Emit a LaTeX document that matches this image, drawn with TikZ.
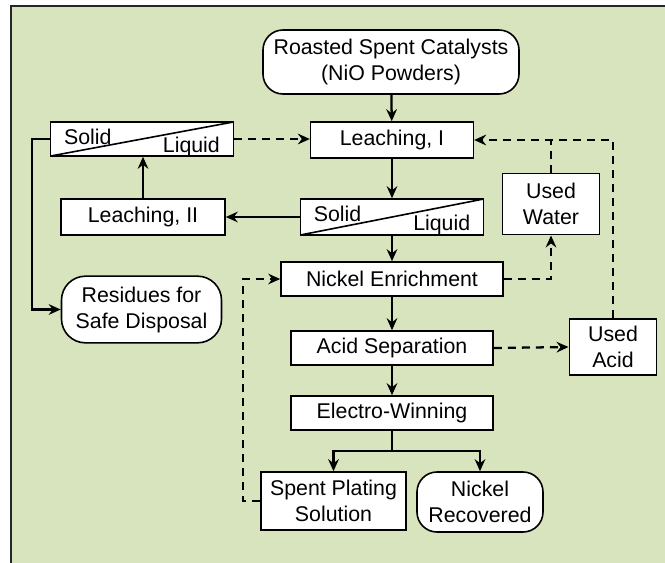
\documentclass[tikz,border=0pt]{standalone}
\usepackage{fontspec}
\setmainfont{Liberation Sans}
\usetikzlibrary{arrows.meta}
\definecolor{panel}{HTML}{D7E4BD}
\begin{document}
\begin{tikzpicture}[x=0.75pt,y=-0.75pt,
   font=\fontsize{16}{19.5}\selectfont,
   every node/.style={inner sep=0pt, align=center},
   box/.style={draw, fill=white, line width=1.2pt},
   term/.style={box, rounded corners=15pt},
   split/.style={box, path picture={\draw[line width=1.2pt]
        (path picture bounding box.south west) -- (path picture bounding box.north east);}},
   flow/.style={line width=1.7pt, -{Stealth[length=9pt,width=8pt,inset=3pt]}},
   back/.style={flow, dash pattern=on 6pt off 4.5pt}]

\useasboundingbox (0,0) rectangle (665,562);
\clip (0,0) rectangle (665,562);
\draw[fill=panel, draw=black!85, line width=1.3pt] (11,6) rectangle (720,620);

\node[term, minimum width=192pt, minimum height=48pt] (roast) at (391,62) {Roasted Spent Catalysts\\(NiO Powders)};
\node[box, minimum width=122pt, minimum height=27pt] (leach1) at (392,140) {Leaching, I};
\node[split, minimum width=137pt, minimum height=25.5pt] (sl1) at (142,139) {};
\node[anchor=base west] (sl1s) at ([shift={(14,23)}]sl1.north west) {Solid};
\node[anchor=base east] (sl1l) at ([shift={(-14,-4)}]sl1.south east) {Liquid};
\node[box, minimum width=123pt, minimum height=27pt] (leach2) at (143,217) {Leaching, II};
\node[split, minimum width=137.5pt, minimum height=27pt] (sl2) at (392,217) {};
\node[anchor=base west] (sl2s) at ([shift={(14,23)}]sl2.north west) {Solid};
\node[anchor=base east] (sl2l) at ([shift={(-14,-5)}]sl2.south east) {Liquid};
\node[box, minimum width=73pt, minimum height=46pt] (water) at (551,204) {Used\\Water};
\node[box, minimum width=166.5pt, minimum height=25.5pt] (nickel) at (392,279) {Nickel Enrichment};
\node[term, rounded corners=18pt, minimum width=120pt, minimum height=50pt] (resid) at (141.5,309.5) {Residues for\\Safe Disposal};
\node[box, minimum width=151.5pt, minimum height=25.5pt] (acidsep) at (392,348) {Acid Separation};
\node[box, minimum width=65.5pt, minimum height=42pt] (usedacid) at (613,347) {Used\\Acid};
\node[box, minimum width=151.5pt, minimum height=25.5pt] (ew) at (392,413) {Electro-Winning};
\node[box, minimum width=109pt, minimum height=43.5pt] (spent) at (333.5,501) {Spent Plating\\Solution};
\node[term, minimum width=94.5pt, minimum height=45pt] (recov) at (480,502) {Nickel\\Recovered};

\draw[flow] (roast) -- (leach1);
\draw[back] (sl1.east) -- (sl1.east -| leach1.west);
\draw[flow] (leach1) -- (sl2);
\draw[flow] (sl2) -- (leach2);
\draw[flow] (leach2.north) -- (leach2.north |- sl1.south);
\draw[flow] (sl1.west) -- ++(-18,0) |- (resid.west);
\draw[flow] (sl2) -- (nickel);
\draw[back] (nickel.east) -| (water.south);
\draw[back] (usedacid.north) |- (leach1.east);
\draw[back, -] (water.north) -- (water.north |- leach1.east);
\draw[flow] (nickel) -- (acidsep);
\draw[back] (acidsep.east) -- (usedacid.west);
\draw[flow] (acidsep) -- (ew);
\draw[flow] (ew.south) -- ++(0,20) -| (spent.north);
\draw[flow] (ew.south) -- ++(0,20) -| (recov.north);
\draw[back] (spent.west) -- ++(-17,0) |- (nickel.west);

\end{tikzpicture}
\end{document}
